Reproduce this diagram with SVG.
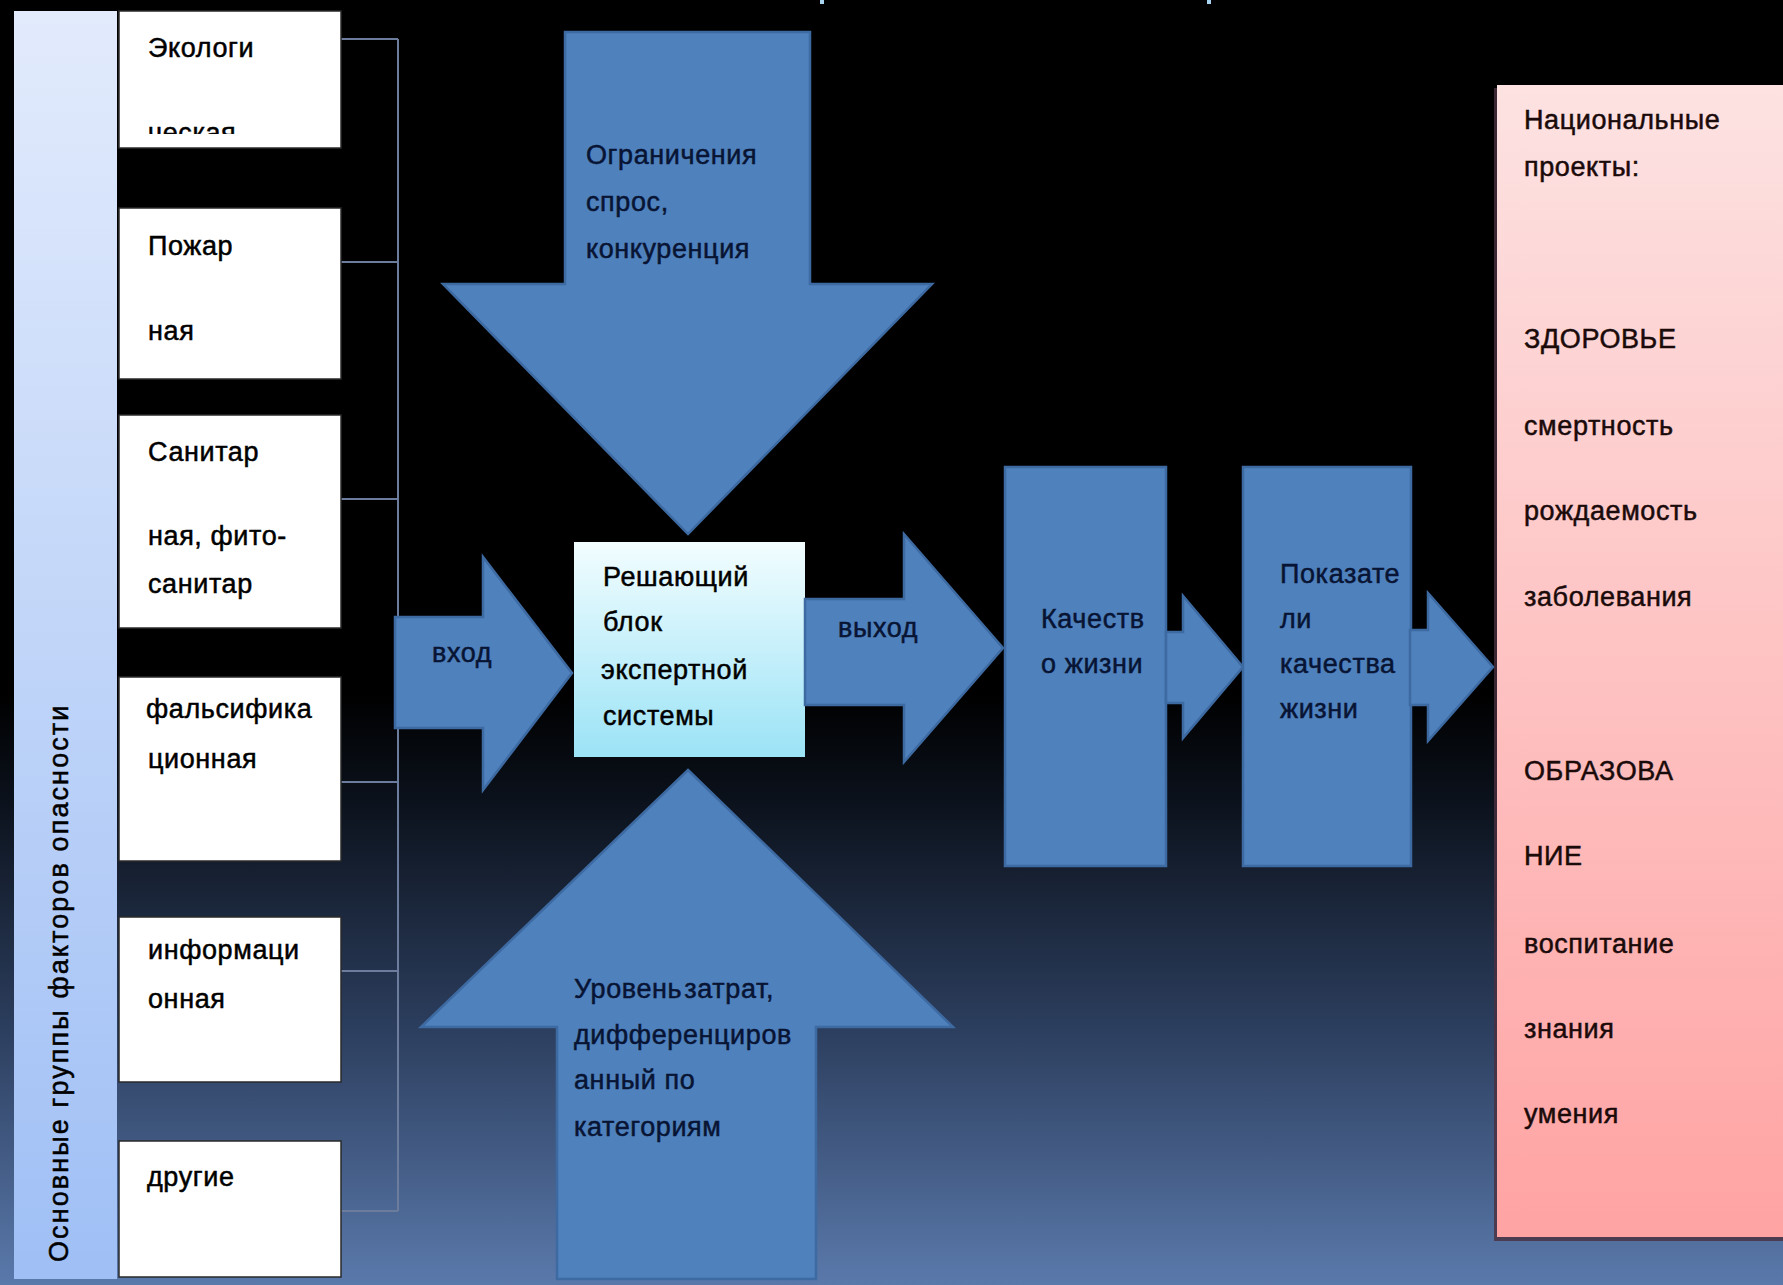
<svg xmlns="http://www.w3.org/2000/svg" width="1783" height="1285" viewBox="0 0 1783 1285">
  <defs>
    <linearGradient id="bg" x1="0" y1="0" x2="0" y2="1">
      <stop offset="0" stop-color="#000000"/>
      <stop offset="0.54" stop-color="#000000"/>
      <stop offset="0.62" stop-color="#0b111b"/>
      <stop offset="0.8" stop-color="#2c3e5e"/>
      <stop offset="1" stop-color="#5a79ab"/>
    </linearGradient>
    <linearGradient id="barGrad" x1="0" y1="0" x2="0" y2="1">
      <stop offset="0" stop-color="#e2ebfc"/>
      <stop offset="1" stop-color="#9fbff5"/>
    </linearGradient>
    <linearGradient id="coreGrad" x1="0" y1="0" x2="0" y2="1">
      <stop offset="0" stop-color="#f2fdff"/>
      <stop offset="1" stop-color="#9be3f6"/>
    </linearGradient>
    <linearGradient id="pinkGrad" x1="0" y1="0" x2="0" y2="1">
      <stop offset="0" stop-color="#fde2e2"/>
      <stop offset="1" stop-color="#ffa3a3"/>
    </linearGradient>
    <clipPath id="clip1"><rect x="119" y="11" width="222" height="123"/></clipPath>
    <style>
      .t { font-family: "Liberation Sans", Arial, sans-serif; font-size: 27px; letter-spacing: 0.6px; stroke-width: 0.5px; }
      .dark { fill: #000000; stroke: #000000; }
      .navy { fill: #081433; stroke: #081433; }
      .pinkt { fill: #1a0a0a; stroke: #1a0a0a; }
      .box { fill: #ffffff; stroke: #2a2a2a; stroke-width: 1.5; }
      .blue { fill: #4f81bd; stroke: #3e6aa2; stroke-width: 2.5; stroke-linejoin: miter; }
      .conn { fill: none; stroke: #6c7c9c; stroke-width: 2; }
    </style>
  </defs>

  <rect x="0" y="0" width="1783" height="1285" fill="url(#bg)"/>
  <rect x="820" y="0" width="4" height="4" fill="#a9d4f0"/>
  <rect x="1207" y="0" width="4" height="4" fill="#a9d4f0"/>

  <g id="factor-bar">
    <rect x="14" y="11" width="103" height="1268" fill="url(#barGrad)"/>
    <text class="t dark" font-size="26" x="68" y="1262" transform="rotate(-90 68 1262)" textLength="557" lengthAdjust="spacing">Основные группы факторов опасности</text>
  </g>

  <g id="connectors">
    <path class="conn" d="M340,39 H398 M340,262 H398 M340,499 H398 M340,782 H398 M340,971 H398 M340,1211 H398 M398,39 V1211"/>
  </g>

  <g id="box-ecology">
    <rect class="box" x="119" y="11" width="222" height="137"/>
    <g clip-path="url(#clip1)">
      <text class="t dark" x="148" y="57">Экологи</text>
      <text class="t dark" x="148" y="142">ческая</text>
    </g>
  </g>
  <g id="box-fire">
    <rect class="box" x="119" y="208" width="222" height="171"/>
    <text class="t dark" x="148" y="255">Пожар</text>
    <text class="t dark" x="148" y="340">ная</text>
  </g>
  <g id="box-sanitary">
    <rect class="box" x="119" y="415" width="222" height="213"/>
    <text class="t dark" x="148" y="461">Санитар</text>
    <text class="t dark" x="148" y="545">ная, фито-</text>
    <text class="t dark" x="148" y="593">санитар</text>
  </g>
  <g id="box-falsification">
    <rect class="box" x="119" y="677" width="222" height="184"/>
    <text class="t dark" x="146" y="718">фальсифика</text>
    <text class="t dark" x="148" y="768">ционная</text>
  </g>
  <g id="box-information">
    <rect class="box" x="119" y="917" width="222" height="165"/>
    <text class="t dark" x="148" y="959">информаци</text>
    <text class="t dark" x="148" y="1008">онная</text>
  </g>
  <g id="box-other">
    <rect class="box" x="119" y="1141" width="222" height="136"/>
    <text class="t dark" x="147" y="1186">другие</text>
  </g>

  <g id="arrow-constraints">
    <path class="blue" d="M565,32 H810 V284 H932 L688,534 L443,284 H565 Z"/>
    <text class="t navy" x="586" y="164">Ограничения</text>
    <text class="t navy" x="586" y="211">спрос,</text>
    <text class="t navy" x="586" y="258">конкуренция</text>
  </g>

  <g id="arrow-costs">
    <path class="blue" d="M688,770 L953,1027 H816 V1279 H557 V1027 H421 Z"/>
    <text class="t navy" x="574" y="998" word-spacing="-6">Уровень затрат,</text>
    <text class="t navy" x="574" y="1044">дифференциров</text>
    <text class="t navy" x="574" y="1089">анный по</text>
    <text class="t navy" x="574" y="1136">категориям</text>
  </g>

  <g id="decision-block">
    <rect x="574" y="542" width="231" height="215" fill="url(#coreGrad)"/>
    <text class="t dark" x="603" y="586">Решающий</text>
    <text class="t dark" x="603" y="631">блок</text>
    <text class="t dark" x="601" y="679">экспертной</text>
    <text class="t dark" x="603" y="725">системы</text>
  </g>

  <g id="arrow-input">
    <path class="blue" d="M395,617 H483 V557 L572,673 L483,790 V728 H395 Z"/>
    <text class="t navy" x="432" y="662">вход</text>
  </g>

  <g id="arrow-output">
    <path class="blue" d="M805,599 H904 V534 L1003,648 L904,762 V705 H805 Z"/>
    <text class="t navy" x="838" y="637">выход</text>
  </g>

  <g id="quality-of-life">
    <rect class="blue" x="1005" y="467" width="161" height="399"/>
    <text class="t navy" x="1041" y="628">Качеств</text>
    <text class="t navy" x="1041" y="673">о жизни</text>
  </g>

  <g id="arrow-q1">
    <path class="blue" d="M1166,632 H1183 V596 L1243,667 L1183,738 V703 H1166 Z"/>
  </g>

  <g id="quality-indicators">
    <rect class="blue" x="1243" y="467" width="168" height="399"/>
    <text class="t navy" x="1280" y="583">Показате</text>
    <text class="t navy" x="1280" y="628">ли</text>
    <text class="t navy" x="1280" y="673">качества</text>
    <text class="t navy" x="1280" y="718">жизни</text>
  </g>

  <g id="arrow-q2">
    <path class="blue" d="M1410,630 H1428 V593 L1493,667 L1428,741 V705 H1410 Z"/>
  </g>

  <g id="national-projects">
    <rect x="1494" y="88" width="300" height="1153" fill="#4a3040" opacity="0.8"/>
    <rect x="1497" y="85" width="290" height="1152" fill="url(#pinkGrad)"/>
    <text class="t pinkt" x="1524" y="129">Национальные</text>
    <text class="t pinkt" x="1524" y="176">проекты:</text>
    <text class="t pinkt" x="1524" y="348">ЗДОРОВЬЕ</text>
    <text class="t pinkt" x="1524" y="435">смертность</text>
    <text class="t pinkt" x="1524" y="520">рождаемость</text>
    <text class="t pinkt" x="1524" y="606">заболевания</text>
    <text class="t pinkt" x="1524" y="780">ОБРАЗОВА</text>
    <text class="t pinkt" x="1524" y="865">НИЕ</text>
    <text class="t pinkt" x="1524" y="953">воспитание</text>
    <text class="t pinkt" x="1524" y="1038">знания</text>
    <text class="t pinkt" x="1524" y="1123">умения</text>
  </g>
</svg>
